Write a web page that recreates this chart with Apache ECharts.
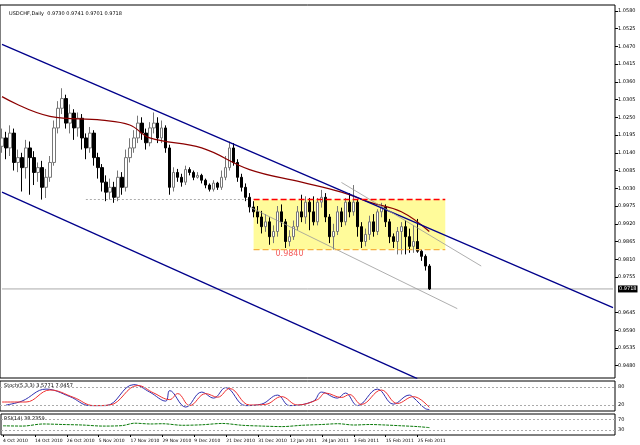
<!DOCTYPE html>
<html><head><meta charset="utf-8">
<script src="https://cdn.jsdelivr.net/npm/echarts@6/dist/echarts.min.js"></script>
<style>html,body{margin:0;padding:0;background:#fff}#c{width:640px;height:445px}</style>
</head><body><div id="c"></div>
<script>
const title = "USDCHF,Daily  0.9730 0.9741 0.9701 0.9718";
const opens = [1.0160,1.0186,1.0155,1.0201,1.0110,1.0125,1.0094,1.0155, 1.0125,1.0079,1.0094,1.0033,1.0064, 1.0110,1.0217,1.0278,1.0308,1.0232, 1.0263,1.0217,1.0247,1.0186,1.0155,1.0201,1.0125, 1.0094,1.0049,1.0018,1.0033,1.0002,1.0064,1.0033, 1.0125,1.0155,1.0186,1.0232,1.0201,1.0171,1.0217,1.0232,1.0186, 1.0217,1.0155,1.0033,1.0079,1.0064, 1.0049,1.0088,1.0079,1.0064,1.0070,1.0055,1.0040,1.0027,1.0046,1.0033,1.0064,1.0094, 1.0155,1.0110,1.0064,1.0033, 1.0002,0.9972,0.9957,0.9941,0.9911,0.9926,0.9880,0.9896,0.9957, 0.9926,0.9865,0.9880,0.9911,0.9957,0.9941,0.9987,0.9957,0.9926,0.9987, 1.0002,0.9941,0.9880,0.9896,0.9957,0.9926,0.9987,0.9957,0.9987,0.9911, 0.9865,0.9887,0.9926,0.9896,0.9957,0.9972,0.9926,0.9880,0.9865,0.9896, 0.9911,0.9880,0.9850,0.9865,0.9835,0.9819,0.9789];
const closes = [1.0186,1.0155,1.0201,1.0110,1.0125,1.0094,1.0155,1.0125, 1.0079,1.0094,1.0033,1.0064,1.0110, 1.0217,1.0278,1.0308,1.0232,1.0263, 1.0217,1.0247,1.0186,1.0155,1.0201,1.0125,1.0094, 1.0049,1.0018,1.0033,1.0002,1.0064,1.0033,1.0125, 1.0155,1.0186,1.0232,1.0201,1.0171,1.0217,1.0232,1.0186,1.0217, 1.0155,1.0033,1.0079,1.0064,1.0049, 1.0088,1.0079,1.0064,1.0070,1.0055,1.0040,1.0027,1.0046,1.0033,1.0064,1.0094,1.0155, 1.0110,1.0064,1.0033,1.0002, 0.9972,0.9957,0.9941,0.9911,0.9926,0.9880,0.9896,0.9957,0.9926, 0.9865,0.9880,0.9911,0.9957,0.9941,0.9987,0.9957,0.9926,0.9987,1.0002, 0.9941,0.9880,0.9896,0.9957,0.9926,0.9987,0.9957,0.9987,0.9911,0.9865, 0.9887,0.9926,0.9896,0.9957,0.9972,0.9926,0.9880,0.9865,0.9896,0.9911, 0.9880,0.9850,0.9865,0.9835,0.9819,0.9789,0.9718];
const highs = [1.0215,1.0205,1.0225,1.0215,1.0150,1.0140,1.0180,1.0175, 1.0145,1.0110,1.0115,1.0090,1.0130, 1.0240,1.0300,1.0340,1.0320,1.0290, 1.0275,1.0265,1.0260,1.0200,1.0220,1.0210,1.0140, 1.0105,1.0070,1.0060,1.0050,1.0085,1.0080,1.0150, 1.0185,1.0210,1.0255,1.0250,1.0215,1.0235,1.0265,1.0250,1.0240, 1.0225,1.0165,1.0095,1.0090,1.0075, 1.0100,1.0095,1.0085,1.0080,1.0075,1.0060,1.0045,1.0055,1.0050,1.0085,1.0130,1.0175, 1.0170,1.0120,1.0075,1.0045, 1.0015,0.9990,0.9975,0.9960,0.9950,0.9940,0.9915,0.9975,0.9980, 0.9935,0.9900,0.9930,0.9975,1.0010,1.0005,1.0000,1.0005,1.0000,1.0025, 1.0015,0.9950,0.9920,0.9975,0.9970,1.0000,1.0015,1.0040,0.9995,0.9925, 0.9905,0.9945,0.9950,0.9965,0.9985,0.9980,0.9935,0.9890,0.9910,0.9925, 0.9930,0.9905,0.9915,0.9935,0.9840,0.9825,0.9795];
const lows = [1.0140,1.0120,1.0130,1.0085,1.0080,1.0020,1.0060,1.0010, 1.0040,1.0050,0.9995,1.0000,1.0050, 1.0100,1.0200,1.0260,1.0215,1.0200, 1.0180,1.0190,1.0150,1.0120,1.0140,1.0100,1.0060, 1.0020,0.9990,0.9995,0.9985,0.9990,1.0010,1.0020, 1.0110,1.0140,1.0170,1.0180,1.0150,1.0160,1.0200,1.0170,1.0170, 1.0140,1.0010,1.0020,1.0050,1.0035, 1.0040,1.0070,1.0055,1.0060,1.0045,1.0030,1.0020,1.0020,1.0025,1.0025,1.0055,1.0085, 1.0100,1.0050,1.0020,0.9990, 0.9955,0.9940,0.9920,0.9890,0.9895,0.9855,0.9860,0.9880,0.9910, 0.9845,0.9850,0.9870,0.9900,0.9925,0.9920,0.9900,0.9915,0.9915,0.9970, 0.9925,0.9860,0.9840,0.9885,0.9910,0.9915,0.9940,0.9945,0.9880,0.9845, 0.9850,0.9870,0.9880,0.9885,0.9940,0.9910,0.9860,0.9845,0.9825,0.9825, 0.9825,0.9830,0.9830,0.9830,0.9805,0.9775,0.9715];
const maPoints = [[0,1.0314],[12,1.0253],[25,1.0241],[32,1.0226],[37,1.0186],[50,1.0155],[62,1.0088],[75,1.0049],[85,1.0018],[92,0.9987],[100,0.9957],[107,0.9896]];
const priceTicks = [1.0580,1.0525,1.0470,1.0415,1.0360,1.0305,1.0250,1.0195,1.0140,1.0085,1.0030,0.9975,0.9920,0.9865,0.9810,0.9755,0.9645,0.9590,0.9535,0.9480];
const lastPrice = 0.9718;
const channelUpper = [[0,1.0476],[153,0.9660]];
const channelLower = [[0,1.0018],[104,0.9440]];
const greyUpper = [[85,1.0048],[120,0.9789]];
const greyLower = [[62,0.9972],[114,0.9657]];
const boxRange = [62.5, 110.5, 0.9840, 0.9995];
const supportDotted = [[21,0.9995],[62,0.9995]];
const stochMain = [[1,20],[5,33],[11,73],[17,48],[22,18],[26,18],[33,88],[37,63],[41,33],[42,68],[46,13],[50,63],[53,43],[56,78],[61,18],[65,23],[69,53],[72,18],[78,33],[80,63],[84,43],[86,60],[89,18],[94,73],[98,23],[102,53],[103,45],[106,8],[107,5]];
const stochSignal = [[0,30],[6,30],[12,70],[18,45],[23,18],[27,20],[34,85],[38,60],[42,38],[44,58],[47,18],[51,58],[54,46],[57,75],[62,20],[66,22],[70,48],[74,20],[79,38],[81,60],[85,45],[87,55],[90,22],[95,70],[99,25],[103,48],[107,12]];
const rsi = [[0,45],[5,44],[10,52],[15,50],[20,48],[25,44],[30,46],[33,55],[37,52],[40,53],[45,47],[50,49],[55,54],[60,47],[65,44],[70,42],[75,47],[80,50],[84,53],[88,48],[92,50],[96,48],[100,45],[104,42],[107,38]];
const dateLabels = ["4 Oct 2010","14 Oct 2010","26 Oct 2010","5 Nov 2010","17 Nov 2010","29 Nov 2010","9 Dec 2010","21 Dec 2010","31 Dec 2010","12 Jan 2011","24 Jan 2011","3 Feb 2011","15 Feb 2011","25 Feb 2011"];
const slots = 154;

const cats = [];
for (let i = 0; i < slots; i++) cats.push(String(i));
const ohlc = opens.map((o, i) => [o, closes[i], lows[i], highs[i]]);
const dateTicks = dateLabels.map((d, i) => i * 8);
const font = 'DejaVu Sans';
const boxTop = [[boxRange[0], boxRange[3]], [boxRange[1], boxRange[3]]];
const boxBottom = [[boxRange[0], boxRange[2]], [boxRange[1], boxRange[2]]];
const priceLine = [[0, lastPrice], [slots - 1, lastPrice]];

const chart = echarts.init(document.getElementById('c'), null, {renderer: 'canvas'});
chart.setOption({
  animation: false,
  backgroundColor: '#fff',
  title: {text: title, left: 4, top: 6, textStyle: {fontSize: 5, fontWeight: 'normal', color: '#000', fontFamily: font}},
  grid: [
    {left: 0, right: 25, top: 5, bottom: 67, show: true, borderColor: '#000', borderWidth: 1},
    {left: 0, right: 25, top: 381, bottom: 34, show: true, borderColor: '#000', borderWidth: 1},
    {left: 0, right: 25, top: 414, bottom: 10, show: true, borderColor: '#000', borderWidth: 1}
  ],
  xAxis: [
    {type: 'category', data: cats, gridIndex: 0, boundaryGap: true, axisLine: {show: false}, axisTick: {show: false}, axisLabel: {show: false}},
    {type: 'value', gridIndex: 1, min: -0.5, max: slots - 0.5, axisLine: {show: false}, axisTick: {show: false}, axisLabel: {show: false}, splitLine: {show: false}},
    {type: 'value', gridIndex: 2, min: -0.5, max: slots - 0.5, axisLine: {show: false}, splitLine: {show: false},
     axisTick: {show: true, length: 2, customValues: dateTicks, lineStyle: {color: '#000'}},
     axisLabel: {show: true, customValues: dateTicks, fontSize: 4.5, color: '#000', fontFamily: font, margin: 3, align: 'left',
       formatter: v => dateLabels[Math.round(v / 8)] || ''}}
  ],
  yAxis: [
    {type: 'value', gridIndex: 0, position: 'right', min: 0.9442, max: 1.0598, splitLine: {show: false},
     axisLine: {show: false}, axisTick: {show: true, length: 3, customValues: priceTicks, lineStyle: {color: '#000'}},
     axisLabel: {customValues: priceTicks, fontSize: 5, color: '#000', fontFamily: font, margin: 3, formatter: v => v.toFixed(4)}},
    {type: 'value', gridIndex: 1, position: 'right', min: 0, max: 100, splitLine: {show: false}, axisLine: {show: false},
     axisTick: {show: false}, axisLabel: {customValues: [20, 80], fontSize: 5, color: '#000', fontFamily: font, margin: 3}},
    {type: 'value', gridIndex: 2, position: 'right', min: 10, max: 90, splitLine: {show: false}, axisLine: {show: false},
     axisTick: {show: false}, axisLabel: {customValues: [30, 70], fontSize: 5, color: '#000', fontFamily: font, margin: 3}}
  ],
  series: [
    {type: 'line', data: priceLine, showSymbol: false, lineStyle: {color: '#aaa', width: 1}, z: 1,
     endLabel: {show: true, formatter: lastPrice.toFixed(4), backgroundColor: '#000', color: '#fff', fontSize: 5, padding: [1, 1], distance: 5, fontFamily: font}},
    {type: 'candlestick', xAxisIndex: 0, yAxisIndex: 0, data: ohlc, barWidth: 3,
     itemStyle: {color: '#fff', color0: '#000', borderColor: '#777', borderColor0: '#000', borderWidth: 1},
     markArea: {silent: true, itemStyle: {color: 'rgba(255,250,120,0.75)'}, data: [[{xAxis: boxRange[0], yAxis: boxRange[2]}, {xAxis: boxRange[1], yAxis: boxRange[3]}]]}
    },
    {type: 'line', data: boxTop, showSymbol: false, itemStyle: {color: '#ff0000'}, lineStyle: {color: '#ff0000', width: 1.4, type: [6, 3]}, z: 12},
    {type: 'line', data: boxBottom, showSymbol: false, itemStyle: {color: '#f5b040'}, lineStyle: {color: '#f5b040', width: 1.2, type: [6, 3]}, z: 12},
    {type: 'line', xAxisIndex: 0, yAxisIndex: 0, data: maPoints, smooth: 0.4, showSymbol: false, lineStyle: {color: '#8b0000', width: 1.2}, z: 3},
    {type: 'line', data: channelUpper, showSymbol: false, lineStyle: {color: '#00008b', width: 1.3}},
    {type: 'line', data: channelLower, showSymbol: false, lineStyle: {color: '#00008b', width: 1.3}},
    {type: 'line', data: greyUpper, showSymbol: false, lineStyle: {color: '#999', width: 0.8}},
    {type: 'line', data: greyLower, showSymbol: false, lineStyle: {color: '#999', width: 0.8}},
    {type: 'line', data: supportDotted, showSymbol: false, lineStyle: {color: '#999', width: 0.8, type: [2, 2]}},
    {type: 'scatter', data: [[72, 0.9825]], symbolSize: 0, label: {show: true, formatter: '0.9840', color: '#f03030', fontSize: 8, fontFamily: font}},
    {type: 'line', xAxisIndex: 1, yAxisIndex: 1, data: stochMain, smooth: 0.4, showSymbol: false, lineStyle: {color: '#3030b0', width: 1},
     markLine: {silent: true, symbol: 'none', label: {show: false}, lineStyle: {color: '#aaa', type: [2, 2], width: 1}, data: [{yAxis: 20}, {yAxis: 80}]}},
    {type: 'line', xAxisIndex: 1, yAxisIndex: 1, data: stochSignal, smooth: 0.4, showSymbol: false, lineStyle: {color: '#f03030', width: 1}},
    {type: 'line', xAxisIndex: 2, yAxisIndex: 2, data: rsi, smooth: 0.3, showSymbol: false, lineStyle: {color: '#0a7a0a', width: 1, type: [3, 1]},
     markLine: {silent: true, symbol: 'none', label: {show: false}, lineStyle: {color: '#aaa', type: [2, 2], width: 1}, data: [{yAxis: 30}, {yAxis: 70}]}}
  ],
  graphic: [
    {type: 'text', left: 4, top: 383, style: {text: 'Stoch(5,3,3) 3.5771 7.0457', fontSize: 5, fill: '#000', fontFamily: font}},
    {type: 'text', left: 4, top: 416, style: {text: 'RSI(14) 38.2359', fontSize: 5, fill: '#000', fontFamily: font}}
  ]
});
</script></body></html>
